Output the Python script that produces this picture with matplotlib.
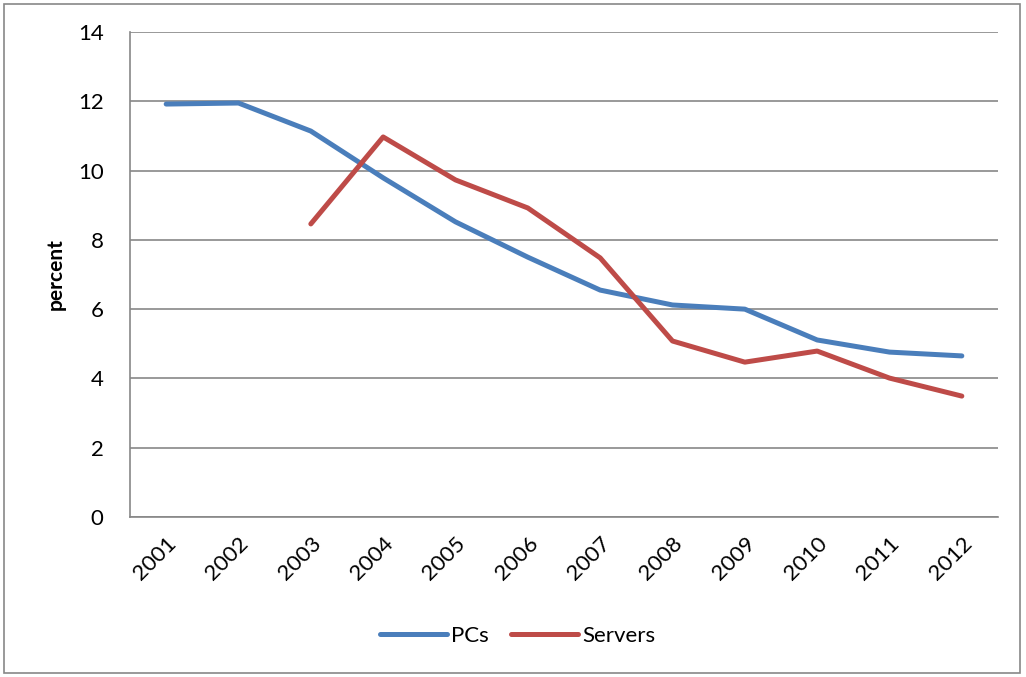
import matplotlib
matplotlib.use("Agg")
import matplotlib.pyplot as plt
from matplotlib.patches import Rectangle
import numpy as np

years = ["2001", "2002", "2003", "2004", "2005", "2006", "2007", "2008", "2009", "2010", "2011", "2012"]
pcs = [11.92, 11.95, 11.14, 9.79, 8.52, 7.5, 6.55, 6.12, 6.0, 5.11, 4.76, 4.65]
servers = [np.nan, np.nan, 8.46, 10.97, 9.73, 8.92, 7.48, 5.08, 4.47, 4.79, 4.01, 3.49]
yticks = [0, 2, 4, 6, 8, 10, 12, 14]

plt.rcParams['font.family'] = ['Lato', 'DejaVu Sans']

W, H = 1026, 677
fig = plt.figure(figsize=(W / 100, H / 100), dpi=100)
ax = fig.add_axes([130 / W, 1 - 517 / H, (998 - 130) / W, (517 - 32) / H])

x = np.arange(len(years))
ax.plot(x, pcs, color="#4A7EBB", lw=3.6, solid_capstyle="round", label="PCs")
ax.plot(x, servers, color="#BE4B48", lw=3.6, solid_capstyle="round", label="Servers")

ax.set_xlim(-0.5, len(years) - 0.5)
ax.set_ylim(0, 14)
ax.set_yticks(yticks)
ax.set_yticklabels([str(v) for v in yticks], fontsize=16)
ax.set_xticks(x)
ax.set_xticklabels(years, fontsize=16, rotation=45, ha="right", rotation_mode="anchor")
ax.tick_params(axis="both", length=0)
ax.tick_params(axis="y", pad=19)
ax.tick_params(axis="x", pad=12)
ax.grid(axis="y", color="#878787", lw=1.2)
ax.set_axisbelow(True)
for s in ["top", "right"]:
    ax.spines[s].set_visible(False)
for s in ["left", "bottom"]:
    ax.spines[s].set_color("#878787")
    ax.spines[s].set_linewidth(1.2)

ax.set_ylabel("percent", fontsize=15, fontweight="bold", labelpad=9)

leg = fig.legend(loc="center", bbox_to_anchor=(518 / W, 1 - 636 / H), ncol=2, frameon=False,
                 fontsize=16, handlelength=3.0, columnspacing=1.0, handletextpad=0.2)

fig.patches.append(Rectangle((4 / W, 4 / H), 1016 / W, 669 / H, transform=fig.transFigure,
                             fill=False, edgecolor="#878787", lw=1.2))

fig.savefig("out.png", dpi=100)
